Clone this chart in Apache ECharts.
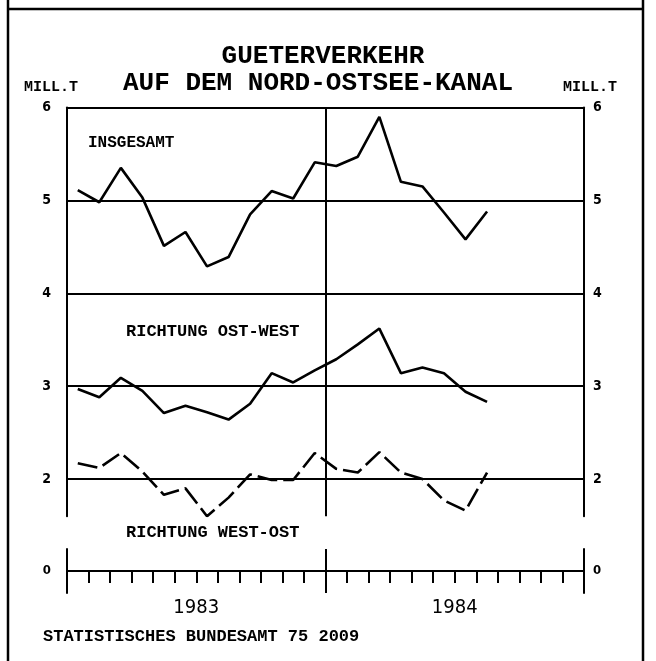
<!DOCTYPE html>
<html>
<head>
<meta charset="utf-8">
<script src="https://cdn.jsdelivr.net/npm/echarts@6/dist/echarts.min.js"></script>
<style>
html,body{margin:0;padding:0;background:#fff;}
#chart{width:656px;height:661px;}
</style>
</head>
<body>
<div id="chart"></div>
<script>
// ---- data ----
const months = [
  '1983-01','1983-02','1983-03','1983-04','1983-05','1983-06',
  '1983-07','1983-08','1983-09','1983-10','1983-11','1983-12',
  '1984-01','1984-02','1984-03','1984-04','1984-05','1984-06',
  '1984-07','1984-08','1984-09','1984-10','1984-11','1984-12'
];
const years = ['1983', '1984'];
const yTicks = [2, 3, 4, 5, 6];
const zeroTick = [0];
const insgesamt = [5.11, 4.98, 5.35, 5.03, 4.51, 4.66, 4.29, 4.39, 4.85, 5.10, 5.02, 5.41,
                   5.37, 5.47, 5.90, 5.20, 5.15, 4.87, 4.58, 4.88];
const ostWest   = [2.97, 2.88, 3.09, 2.95, 2.71, 2.79, 2.72, 2.64, 2.81, 3.14, 3.04, 3.17,
                   3.29, 3.45, 3.62, 3.14, 3.20, 3.14, 2.94, 2.83];
const westOst   = [2.17, 2.12, 2.28, 2.08, 1.83, 1.90, 1.60, 1.80, 2.05, 1.99, 1.99, 2.28,
                   2.11, 2.07, 2.29, 2.07, 2.00, 1.77, 1.66, 2.07];

const MONO = '"Liberation Mono", "DejaVu Sans Mono", monospace';
const COND = '"DejaVu Sans Condensed", "DejaVu Sans", sans-serif';
const BLACK = '#000';

const chart = echarts.init(document.getElementById('chart'), null, {renderer: 'canvas'});

const yBase = {
  type: 'value',
  axisTick: {show: false, customValues: yTicks},
  axisLine: {show: true, lineStyle: {color: BLACK, width: 2}},
  axisLabel: {customValues: yTicks, color: BLACK, fontFamily: COND, fontWeight: 'bold', fontSize: 14}
};

function txt(text, x, y, size, align, family, weight) {
  return {
    type: 'text', x: x, y: y, silent: true,
    style: {
      text: text, fill: BLACK,
      font: (weight || 'bold') + ' ' + size + 'px ' + (family || MONO),
      textAlign: align || 'left', textVerticalAlign: 'middle'
    }
  };
}

const option = {
  backgroundColor: '#fff',
  animation: false,
  grid: [
    {left: 67, right: 72, top: 107.5, height: 408.7},
    {left: 67, right: 72, top: 549, height: 44}
  ],
  xAxis: [
    {
      type: 'category', gridIndex: 0, data: months, boundaryGap: true,
      axisLine: {show: false}, axisTick: {show: false}, axisLabel: {show: false},
      splitLine: {show: true, interval: 11, lineStyle: {color: BLACK, width: 2}}
    },
    {
      type: 'category', gridIndex: 1, data: months, boundaryGap: true, position: 'bottom',
      axisLine: {show: true, onZero: true, lineStyle: {color: BLACK, width: 2}},
      axisTick: {show: true, interval: 0, length: 12, inside: false, lineStyle: {color: BLACK, width: 2}},
      axisLabel: {show: false},
      splitLine: {show: true, interval: 11, lineStyle: {color: BLACK, width: 2}}
    },
    {
      type: 'category', gridIndex: 1, data: years, boundaryGap: true, position: 'bottom',
      axisLine: {show: false, onZero: false}, axisTick: {show: false},
      axisLabel: {show: true, margin: 5, color: BLACK, fontFamily: COND, fontSize: 20}
    }
  ],
  yAxis: [
    Object.assign({}, yBase, {
      gridIndex: 0, position: 'left', min: 1.6, max: 6,
      axisLabel: Object.assign({}, yBase.axisLabel, {margin: 16}),
      splitLine: {show: true, lineStyle: {color: BLACK, width: 2}}
    }),
    Object.assign({}, yBase, {
      gridIndex: 0, position: 'right', min: 1.6, max: 6,
      axisLabel: Object.assign({}, yBase.axisLabel, {margin: 9}),
      splitLine: {show: false}
    }),
    {
      type: 'value', gridIndex: 1, position: 'left', min: -1, max: 1,
      axisTick: {show: false, customValues: zeroTick},
      axisLine: {show: true, lineStyle: {color: BLACK, width: 2}},
      axisLabel: {customValues: zeroTick, margin: 16, color: BLACK, fontFamily: COND, fontWeight: 'bold', fontSize: 13},
      splitLine: {show: false}
    },
    {
      type: 'value', gridIndex: 1, position: 'right', min: -1, max: 1,
      axisTick: {show: false, customValues: zeroTick},
      axisLine: {show: true, lineStyle: {color: BLACK, width: 2}},
      axisLabel: {customValues: zeroTick, margin: 9, color: BLACK, fontFamily: COND, fontWeight: 'bold', fontSize: 13},
      splitLine: {show: false}
    }
  ],
  series: [
    {name: 'INSGESAMT', type: 'line', xAxisIndex: 0, yAxisIndex: 0, data: insgesamt,
     symbol: 'none', lineStyle: {color: BLACK, width: 2.6}},
    {name: 'RICHTUNG OST-WEST', type: 'line', xAxisIndex: 0, yAxisIndex: 0, data: ostWest,
     symbol: 'none', lineStyle: {color: BLACK, width: 2.6}},
    {name: 'RICHTUNG WEST-OST', type: 'line', xAxisIndex: 0, yAxisIndex: 0, data: westOst,
     symbol: 'none', lineStyle: {color: BLACK, width: 2.6, type: [20, 6]}}
  ],
  graphic: [
    {type: 'line', silent: true, shape: {x1: 8, y1: 0, x2: 8, y2: 661}, style: {stroke: BLACK, lineWidth: 2.5}},
    {type: 'line', silent: true, shape: {x1: 643, y1: 0, x2: 643, y2: 661}, style: {stroke: BLACK, lineWidth: 2.5}},
    {type: 'line', silent: true, shape: {x1: 8, y1: 9, x2: 643, y2: 9}, style: {stroke: BLACK, lineWidth: 2.5}},
    txt('GUETERVERKEHR', 323, 56, 26, 'center'),
    txt('AUF DEM NORD-OSTSEE-KANAL', 318, 83, 26, 'center'),
    txt('MILL.T', 51, 87, 15, 'center'),
    txt('MILL.T', 590, 87, 15, 'center'),
    txt('INSGESAMT', 88, 142.5, 16, 'left'),
    txt('RICHTUNG OST-WEST', 126, 332, 17, 'left'),
    txt('RICHTUNG WEST-OST', 126, 533, 17, 'left'),
    txt('STATISTISCHES BUNDESAMT 75 2009', 43, 637, 17, 'left')
  ]
};
chart.setOption(option);
</script>
</body>
</html>
